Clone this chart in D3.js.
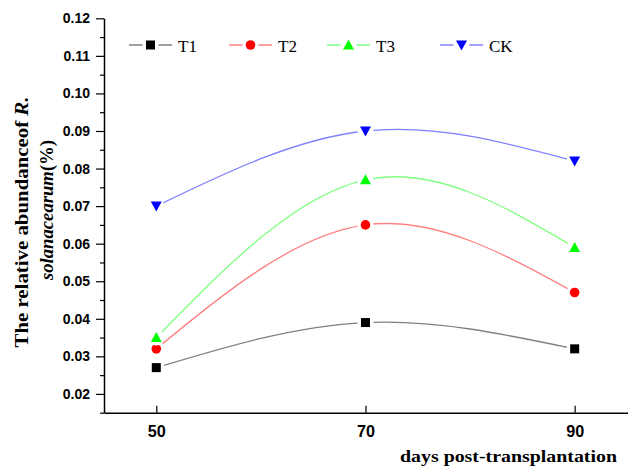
<!DOCTYPE html>
<html>
<head>
<meta charset="utf-8">
<script src="https://cdn.jsdelivr.net/npm/d3@7"></script>
<style>
  body { margin: 0; background: #fff; }
  svg { display: block; font-family: "Liberation Serif", "Times New Roman", serif; }
</style>
</head>
<body>
<div id="chart"></div>
<script>
var days = [50, 70, 90];
var T1 = [0.027, 0.039, 0.032];
var T2 = [0.032, 0.065, 0.047];
var T3 = [0.035, 0.077, 0.059];
var CK = [0.070, 0.090, 0.082];
var yTicks = [0.02, 0.03, 0.04, 0.05, 0.06, 0.07, 0.08, 0.09, 0.10, 0.11, 0.12];
var yMinor = [0.015, 0.025, 0.035, 0.045, 0.055, 0.065, 0.075, 0.085, 0.095, 0.105, 0.115];

var width = 628, height = 469;

var series = [
  {name: "T1", values: T1, line: "#808080", fill: "#000000", shape: "square"},
  {name: "T2", values: T2, line: "#ff8080", fill: "#ff0000", shape: "circle"},
  {name: "T3", values: T3, line: "#80ff80", fill: "#00ff00", shape: "triangle"},
  {name: "CK", values: CK, line: "#8080ff", fill: "#0000ff", shape: "down"}
];

var x = d3.scaleLinear().domain([45, 95.1]).range([104, 628]);
var y = d3.scaleLinear().domain([0.015, 0.12]).range([412.7, 18.3]);

var svg = d3.select("#chart").append("svg")
    .attr("width", width)
    .attr("height", height);

// y axis
var yAxis = svg.append("g")
    .attr("transform", "translate(104,0)")
    .call(d3.axisLeft(y).tickValues(yTicks).tickFormat(d3.format(".2f"))
      .tickSize(8).tickSizeOuter(0).tickPadding(6));
yAxis.selectAll("text")
    .attr("font-size", 14).attr("font-weight", "bold").attr("fill", "#000");
yAxis.select(".domain").attr("stroke-width", 1.5);

svg.append("g")
    .attr("transform", "translate(104,0)")
    .call(d3.axisLeft(y).tickValues(yMinor).tickFormat("").tickSize(4).tickSizeOuter(0))
    .select(".domain").remove();

// x axis
var xAxis = svg.append("g")
    .attr("transform", "translate(0,412.7)")
    .call(d3.axisBottom(x).tickValues(days).tickSize(-7).tickSizeOuter(0).tickPadding(13));
xAxis.selectAll("text")
    .attr("font-size", 16).attr("font-weight", "bold").attr("fill", "#000")
    .attr("textLength", 18).attr("lengthAdjust", "spacingAndGlyphs");
xAxis.select(".domain").attr("stroke-width", 1.5);
svg.selectAll(".tick line").attr("stroke-width", 1.2);

// axis titles
svg.append("text")
    .attr("x", 617).attr("y", 462)
    .attr("text-anchor", "end")
    .attr("font-size", 17).attr("font-weight", "bold")
    .attr("textLength", 217).attr("lengthAdjust", "spacingAndGlyphs")
    .text("days post-transplantation");

var t1 = svg.append("text")
    .attr("transform", "translate(28,222) rotate(-90)")
    .attr("text-anchor", "middle")
    .attr("font-size", 19).attr("font-weight", "bold")
    .attr("textLength", 251).attr("lengthAdjust", "spacingAndGlyphs");
t1.append("tspan").text("The relative abundanceof ");
t1.append("tspan").attr("font-style", "italic").text("R.");

var t2 = svg.append("text")
    .attr("transform", "translate(53,210) rotate(-90)")
    .attr("text-anchor", "middle")
    .attr("font-size", 19).attr("font-weight", "bold")
    .attr("textLength", 140).attr("lengthAdjust", "spacingAndGlyphs");
t2.append("tspan").attr("font-style", "italic").text("solanacearum");
t2.append("tspan").text("(%)");

// markers
function drawMarker(g, s, cx, cy) {
  g.append("circle").attr("cx", cx).attr("cy", cy).attr("r", 8).attr("fill", "#fff");
  if (s.shape === "square") {
    g.append("rect").attr("x", cx - 4.5).attr("y", cy - 4.5)
      .attr("width", 9).attr("height", 9).attr("fill", s.fill);
  } else if (s.shape === "circle") {
    g.append("circle").attr("cx", cx).attr("cy", cy).attr("r", 4.8).attr("fill", s.fill);
  } else if (s.shape === "triangle") {
    g.append("path").attr("transform", "translate(" + cx + "," + cy + ")")
      .attr("d", "M0,-5.5L5.5,4.5L-5.5,4.5Z").attr("fill", s.fill);
  } else {
    g.append("path").attr("transform", "translate(" + cx + "," + cy + ")")
      .attr("d", "M0,5.5L5.5,-4.5L-5.5,-4.5Z").attr("fill", s.fill);
  }
}

var line = d3.line()
    .x(function(d, i) { return x(days[i]); })
    .y(function(d) { return y(d); })
    .curve(d3.curveNatural);

var lines = svg.append("g");
series.forEach(function(s) {
  lines.append("path")
    .attr("d", line(s.values))
    .attr("fill", "none")
    .attr("stroke", s.line)
    .attr("stroke-width", 1.3);
});

var marks = svg.append("g");
series.forEach(function(s) {
  s.values.forEach(function(v, i) {
    drawMarker(marks.append("g"), s, x(days[i]), y(v));
  });
});

// legend
var legX = [129, 229, 327, 440];
var legend = svg.append("g");
series.forEach(function(s, i) {
  var g = legend.append("g");
  g.append("line")
    .attr("x1", legX[i]).attr("x2", legX[i] + 43)
    .attr("y1", 45).attr("y2", 45)
    .attr("stroke", s.line).attr("stroke-width", 1.3);
  drawMarker(g, s, legX[i] + 21.5, 45);
  g.append("text")
    .attr("x", legX[i] + 49).attr("y", 51.5)
    .attr("font-size", 17)
    .text(s.name);
});
</script>
</body>
</html>
